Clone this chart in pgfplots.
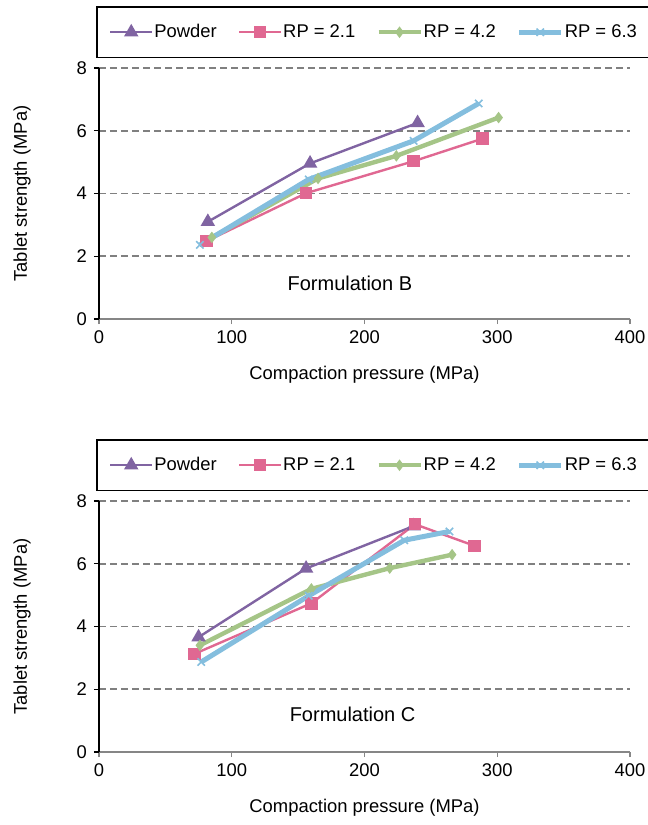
\documentclass[border=0pt]{standalone}
\usepackage{pgfplots}
\pgfplotsset{compat=1.18}
\usepackage{fontspec}
\setmainfont{Liberation Sans}

\definecolor{cpow}{RGB}{128,100,162}
\definecolor{crp2}{RGB}{224,104,146}
\definecolor{crp4}{RGB}{165,197,135}
\definecolor{crp6}{RGB}{132,190,222}
\definecolor{gridgray}{RGB}{128,128,128}
\definecolor{axgray}{RGB}{134,134,134}

\newcommand{\chfont}{\fontsize{9.2}{11}\selectfont}

\pgfplotsset{
  tabstyle/.style={
    scale only axis,
    width=265.5pt, height=125.5pt,
    xmin=0, xmax=400, ymin=0, ymax=8,
    xtick={0,100,...,400}, ytick={0,2,...,8},
    axis x line*=bottom, axis y line*=left,
    x axis line style={axgray, line width=0.75pt},
    y axis line style={black, line width=0.75pt},
    xtick style={axgray, line width=0.6pt},
    ytick style={black, line width=0.6pt},
    tick align=outside, major tick length=2.5pt,
    ymajorgrids,
    major grid style={gridgray, line width=0.8pt, dash pattern=on 3.5pt off 2pt},
    tick label style={font=\chfont},
    /pgf/number format/assume math mode=true,
    label style={font=\chfont},
    xlabel={Compaction pressure (MPa)},
    ylabel={Tablet strength (MPa)},
    xlabel style={at={(axis description cs:0.5,0)}, anchor=center, yshift=-28pt},
    ylabel style={at={(axis description cs:0,0.5)}, anchor=center, yshift=38.5pt},
    legend columns=4,
    legend style={
      at={(axis description cs:0.5,1)}, anchor=south, yshift=5pt, xshift=4.5pt,
      draw=black, line width=0.6pt, font=\chfont,
      inner xsep=6pt, inner ysep=6.5pt,
      /tikz/every even column/.append style={column sep=10pt},
      nodes={inner xsep=0.5pt},
    },
    legend image code/.code={
      \draw[mark repeat=2,mark phase=2,##1] plot coordinates {(0pt,0pt) (10.5pt,0pt) (21pt,0pt)};
    },
    ppow/.style={cpow, line width=1.2pt, mark=triangle*, mark size=3pt, mark options={solid, fill=cpow}},
    prp2/.style={crp2, line width=1.2pt, mark=square*, mark size=2.5pt, mark options={solid, fill=crp2}},
    prp4/.style={crp4, line width=2.2pt, mark=diamond*, mark size=2.5pt, mark options={solid, line width=0.5pt, fill=crp4}},
    prp6/.style={crp6, line width=2.5pt, mark=x, mark size=2.6pt, mark options={solid, line width=0.8pt}},
  }
}

\begin{document}
\begin{tikzpicture}
\useasboundingbox (-49.5pt,-253pt) rectangle (274.5pt,159.5pt);

% Formulation B
\begin{axis}[tabstyle, at={(0pt,0pt)}, anchor=origin]
\addplot[ppow] coordinates {(82,3.10) (159,4.96) (240,6.25)};
\addplot[prp2] coordinates {(81,2.48) (156,4.01) (237,5.03) (289,5.75)};
\addplot[prp4] coordinates {(85,2.60) (165,4.48) (224,5.20) (301,6.42)};
\addplot[prp6] coordinates {(76,2.36) (158,4.45) (237,5.68) (286,6.87)};
\legend{Powder, RP = 2.1, RP = 4.2, RP = 6.3}
\node[font=\fontsize{10}{12}\selectfont] at (axis cs:189,1.15) {Formulation B};
\end{axis}

% Formulation C
\begin{axis}[tabstyle, at={(0pt,-216.5pt)}, anchor=origin]
\addplot[ppow] coordinates {(75,3.66) (156,5.85) (237,7.20)};
\addplot[prp2] coordinates {(72,3.13) (160,4.74) (238,7.26) (283,6.57)};
\addplot[prp4] coordinates {(76,3.40) (160,5.20) (219,5.86) (266,6.29)};
\addplot[prp6] coordinates {(77,2.87) (158,4.98) (230,6.75) (264,7.03)};
\legend{Powder, RP = 2.1, RP = 4.2, RP = 6.3}
\node[font=\fontsize{10}{12}\selectfont] at (axis cs:191,1.2) {Formulation C};
\end{axis}
\end{tikzpicture}
\end{document}
